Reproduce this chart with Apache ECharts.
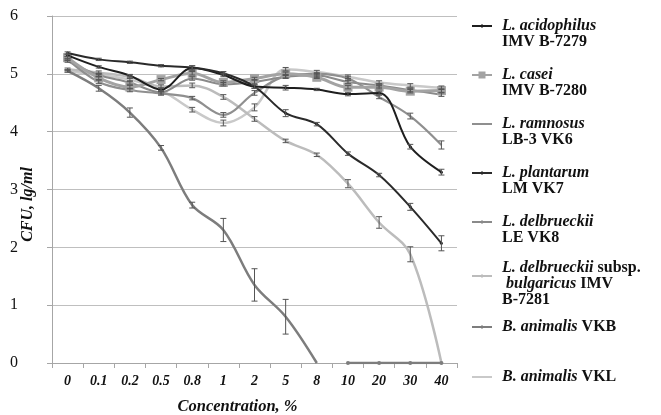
<!DOCTYPE html>
<html>
<head>
<meta charset="utf-8">
<script src="https://cdn.jsdelivr.net/npm/echarts@6/dist/echarts.min.js"></script>
<style>
  html, body { margin: 0; padding: 0; background: #fff; }
  #chart { width: 661px; height: 415px; }
</style>
</head>
<body>
<div id="chart"></div>
<script>
// концентрации
const categories = ['0', '0.1', '0.2', '0.5', '0.8', '1', '2', '5', '8', '10', '20', '30', '40'];
const yTicks = [0, 1, 2, 3, 4, 5, 6];

// CFU values, lg/ml
const acidophilus = [5.32, 5.12, 4.97, 4.73, 5.10, 4.98, 4.78, 4.76, 4.73, 4.65, 4.67, 3.74, 3.30];
const casei       = [5.28, 4.93, 4.77, 4.90, 5.01, 4.85, 4.92, 5.00, 4.94, 4.77, 4.77, 4.70, 4.71];
const ramnosus    = [5.25, 4.86, 4.72, 4.66, 4.58, 4.29, 4.67, 4.96, 5.00, 4.92, 4.60, 4.27, 3.77];
const plantarum   = [5.36, 5.25, 5.20, 5.14, 5.11, 5.01, 4.78, 4.32, 4.13, 3.62, 3.25, 2.70, 2.07];
const delbLE      = [5.22, 4.98, 4.85, 4.68, 4.92, 4.82, 4.86, 4.95, 4.97, 4.86, 4.80, 4.72, 4.64];
const bulgaricus  = [5.08, 5.02, 4.95, 4.78, 4.80, 4.60, 4.22, 3.84, 3.60, 3.10, 2.43, 1.88, 0];
const animVKB     = [5.05, 4.75, 4.33, 3.72, 2.73, 2.30, 1.35, 0.80, 0, null, null, null, null];
const animVKBtail = [null, null, null, null, null, null, null, null, null, 0, 0, 0, 0];
const animVKL     = [5.05, 4.98, 4.90, 4.72, 4.38, 4.15, 4.42, 5.08, 5.03, 4.95, 4.85, 4.80, 4.76];

// standard deviation
const errAcid = [0.02, 0.02, 0.02, 0.03, 0.04, 0.03, 0.03, 0.04, 0.02, 0.03, 0.03, 0.04, 0.05];
const errCas  = [0.02, 0.03, 0.03, 0.02, 0.03, 0.03, 0.02, 0.03, 0.02, 0.03, 0.03, 0.03, 0.03];
const errRam  = [0.02, 0.03, 0.03, 0.03, 0.03, 0.04, 0.04, 0.03, 0.02, 0.03, 0.03, 0.05, 0.07];
const errPla  = [0.02, 0.02, 0.02, 0.02, 0.03, 0.03, 0.03, 0.06, 0.03, 0.03, 0.03, 0.06, 0.13];
const errLE   = [0.02, 0.03, 0.03, 0.03, 0.03, 0.03, 0.03, 0.03, 0.03, 0.03, 0.03, 0.03, 0.03];
const errBul  = [0.02, 0.03, 0.03, 0.03, 0.04, 0.04, 0.04, 0.03, 0.03, 0.07, 0.10, 0.13, 0];
const errVKB  = [0.02, 0.05, 0.08, 0.04, 0.05, 0.20, 0.28, 0.30, 0, null, null, null, null];
const errVKL  = [0.02, 0.03, 0.03, 0.03, 0.04, 0.05, 0.06, 0.03, 0.03, 0.03, 0.03, 0.03, 0.03];

const names = [
  'L. acidophilus IMV B-7279', 'L. casei IMV B-7280', 'L. ramnosus LB-3 VK6', 'L. plantarum LM VK7',
  'L. delbrueckii LE VK8', 'L. delbrueckii subsp. bulgaricus IMV B-7281', 'B. animalis VKB', 'B. animalis VKL'
];
// legend text, rich format
const legendText = [
  '\n{i|L. acidophilus}\n{n|IMV B-7279}',
  '\n{i|L. casei}\n{n|IMV B-7280}',
  '\n{i|L. ramnosus}\n{n|LB-3 VK6}',
  '\n{i|L. plantarum}\n{n|LM VK7}',
  '\n{i|L. delbrueckii}\n{n|LE VK8}',
  '\n{i|L. delbrueckii}{n| subsp.}\n{i| bulgaricus}{n| IMV}\n{n|B-7281}',
  '{i|B. animalis}{n| VKB}',
  '{i|B. animalis}{n| VKL}'
];
const legendTop = [2, 51, 100, 149, 198, 244, 319, 369];

// legend icons (20 x 8 box)
const iconLine = 'path://M0,3h20v2h-20z';
const iconDot = 'path://M0,3h20v2h-20z M9,2.5h2v3h-2z';
const iconSquare = 'path://M0,3h20v2h-20z M6.5,0.5h7v7h-7z';
const legendIcon = [iconDot, iconSquare, iconLine, iconDot, iconDot, iconDot, iconDot, iconLine];
const legendColor = ['#1e1e1e', '#a3a3a3', '#8f8f8f', '#2a2a2a', '#8a8a8a', '#bcbcbc', '#7d7d7d', '#c9c9c9'];

const serif = 'Liberation Serif';

function errData(vals, errs) {
  const out = [];
  vals.forEach((v, i) => {
    if (v == null || errs[i] == null || errs[i] === 0) return;
    out.push([i, v - errs[i], v + errs[i]]);
  });
  return out;
}

function errSeries(vals, errs) {
  return {
    type: 'custom',
    silent: true,
    z: 5,
    data: errData(vals, errs),
    renderItem: function (params, api) {
      const top = api.coord([api.value(0), api.value(2)]);
      const bot = api.coord([api.value(0), api.value(1)]);
      const w = 3;
      const st = { stroke: '#555', lineWidth: 1 };
      return {
        type: 'group',
        children: [
          { type: 'line', shape: { x1: top[0], y1: top[1], x2: bot[0], y2: bot[1] }, style: st },
          { type: 'line', shape: { x1: top[0] - w, y1: top[1], x2: top[0] + w, y2: top[1] }, style: st },
          { type: 'line', shape: { x1: bot[0] - w, y1: bot[1], x2: bot[0] + w, y2: bot[1] }, style: st }
        ]
      };
    }
  };
}

function lineSeries(name, data, color, width, symbol, size, z) {
  return {
    name: name,
    type: 'line',
    data: data,
    smooth: 0.35,
    connectNulls: false,
    symbol: symbol,
    symbolSize: size,
    showSymbol: symbol !== 'none',
    lineStyle: { color: color, width: width },
    itemStyle: { color: color },
    z: z
  };
}

const chart = echarts.init(document.getElementById('chart'));

const legends = names.map((n, k) => ({
  data: [{ name: n, icon: legendIcon[k], itemStyle: { color: legendColor[k] } }],
  left: 472,
  top: legendTop[k],
  orient: 'vertical',
  padding: 0,
  itemWidth: 20,
  itemHeight: 8,
  itemGap: 8,
  selectedMode: false,
  formatter: () => legendText[k],
  textStyle: {
    fontFamily: serif,
    fontSize: 16,
    lineHeight: 16,
    color: '#111',
    padding: [0, 0, 0, 5],
    rich: {
      i: { fontFamily: serif, fontSize: 16, lineHeight: 16, fontStyle: 'italic', fontWeight: 'bold', color: '#111' },
      n: { fontFamily: serif, fontSize: 16, lineHeight: 16, fontWeight: 'bold', color: '#111' }
    }
  }
}));

const option = {
  animation: false,
  backgroundColor: '#fff',
  legend: legends,
  grid: { left: 52, right: 204, top: 16, bottom: 52, containLabel: false, outerBoundsMode: 'none' },
  xAxis: {
    type: 'category',
    data: categories,
    boundaryGap: true,
    name: 'Concentration, %',
    nameLocation: 'middle',
    nameGap: 35,
    nameMoveOverlap: false,
    nameTextStyle: { fontFamily: serif, fontSize: 16.5, fontStyle: 'italic', fontWeight: 'bold', color: '#111', padding: [0, 34, 0, 0] },
    axisLine: { lineStyle: { color: '#a6a6a6' } },
    axisTick: { show: true, length: 5, lineStyle: { color: '#a6a6a6' } },
    axisLabel: { fontFamily: serif, fontSize: 14, fontStyle: 'italic', fontWeight: 'bold', color: '#111', margin: 11 },
    splitLine: { show: false }
  },
  yAxis: {
    type: 'value',
    min: yTicks[0],
    max: yTicks[yTicks.length - 1],
    interval: 1,
    name: 'CFU, lg/ml',
    nameLocation: 'middle',
    nameGap: 16,
    nameRotate: 90,
    nameMoveOverlap: false,
    nameTextStyle: { fontFamily: serif, fontSize: 16, fontStyle: 'italic', fontWeight: 'bold', color: '#111', padding: [0, 30, 0, 0] },
    axisLine: { show: true, lineStyle: { color: '#a6a6a6' } },
    axisTick: { show: true, length: 5, lineStyle: { color: '#a6a6a6' } },
    axisLabel: { fontFamily: serif, fontSize: 16, color: '#111', margin: 34 },
    splitLine: { lineStyle: { color: '#bfbfbf', width: 1 } }
  },
  series: [
    lineSeries(names[7], animVKL, '#c9c9c9', 2.5, 'none', 0, 2),
    lineSeries(names[5], bulgaricus, '#bcbcbc', 2.5, 'none', 0, 2),
    lineSeries(names[4], delbLE, '#8a8a8a', 2, 'none', 0, 2),
    lineSeries(names[2], ramnosus, '#8f8f8f', 2.2, 'none', 0, 2),
    lineSeries(names[6], animVKB, '#7d7d7d', 2.5, 'none', 0, 2),
    lineSeries(names[6], animVKBtail, '#7d7d7d', 2.5, 'circle', 4, 2),
    lineSeries(names[1], casei, '#a3a3a3', 3, 'rect', 9, 3),
    lineSeries(names[0], acidophilus, '#1e1e1e', 2, 'circle', 3, 4),
    lineSeries(names[3], plantarum, '#2a2a2a', 2, 'circle', 3, 4),
    errSeries(animVKL, errVKL),
    errSeries(bulgaricus, errBul),
    errSeries(delbLE, errLE),
    errSeries(ramnosus, errRam),
    errSeries(animVKB, errVKB),
    errSeries(casei, errCas),
    errSeries(acidophilus, errAcid),
    errSeries(plantarum, errPla)
  ]
};

option && chart.setOption(option);
</script>
</body>
</html>
